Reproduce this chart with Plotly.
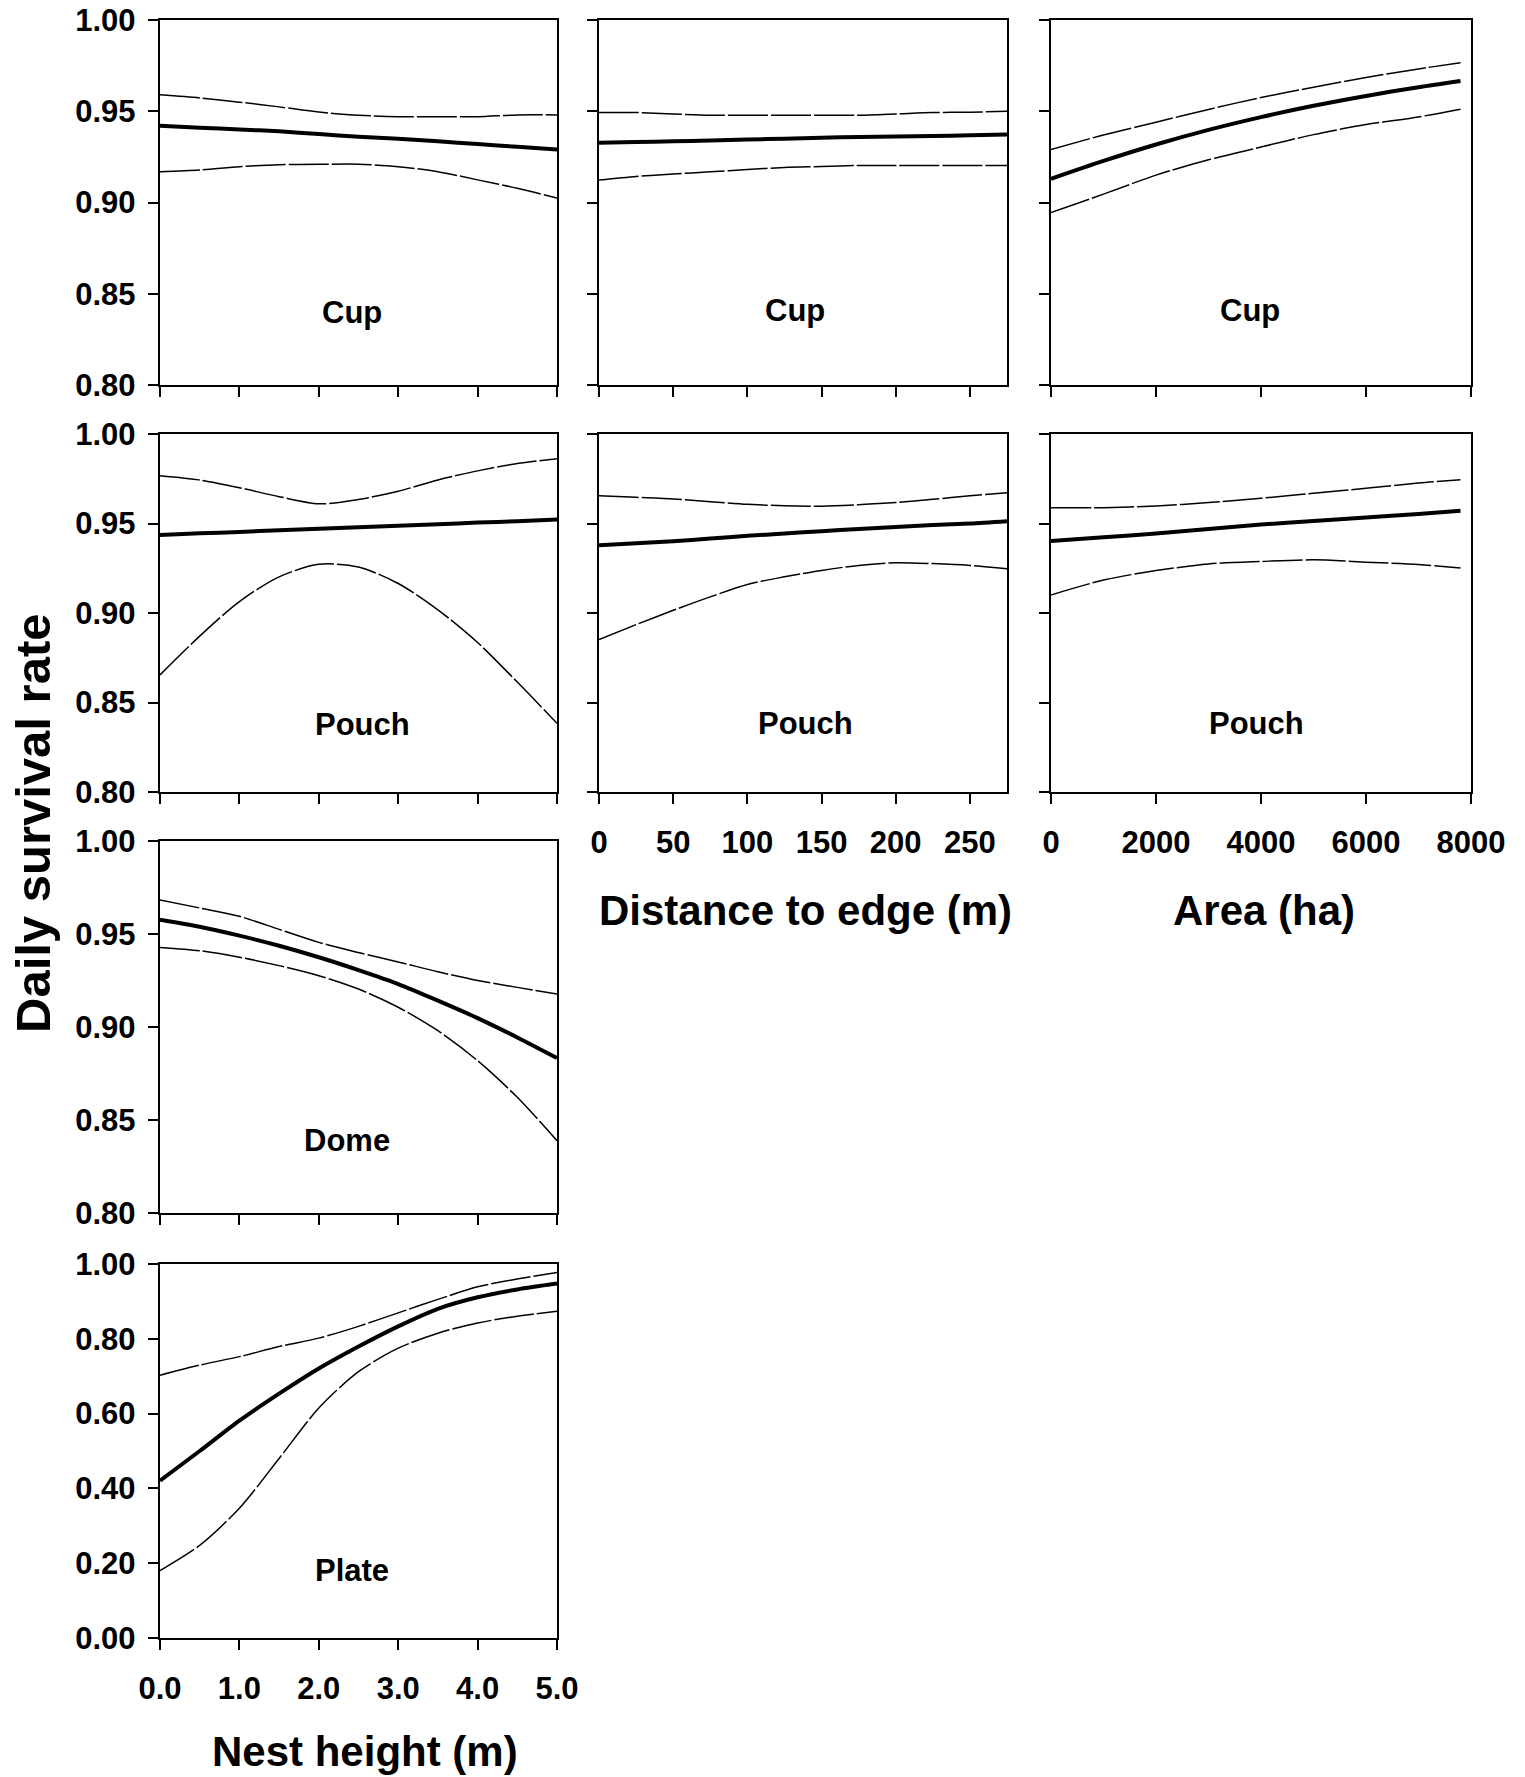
import plotly.graph_objects as go

# ---------------- data ----------------
height_x = [0.0, 0.5, 1.0, 1.5, 2.0, 2.5, 3.0, 3.5, 4.0, 4.5, 5.0]
distance_x = [0, 25, 50, 75, 100, 125, 150, 175, 200, 225, 250, 275]
area_x = [0, 1000, 2000, 3000, 4000, 5000, 6000, 7000, 7800]

cup_height_hi = [0.959, 0.9573, 0.955, 0.9524, 0.9496, 0.9478, 0.947, 0.947, 0.947, 0.948, 0.948]
cup_height_est = [0.942, 0.941, 0.940, 0.939, 0.9375, 0.936, 0.935, 0.9335, 0.932, 0.9305, 0.929]
cup_height_lo = [0.9169, 0.9178, 0.9196, 0.9207, 0.9209, 0.921, 0.9196, 0.9169, 0.9124, 0.9078, 0.9024]

cup_dist_hi = [0.9493, 0.9493, 0.9485, 0.9478, 0.9478, 0.9478, 0.9478, 0.9478, 0.9485, 0.9493, 0.9495, 0.950]
cup_dist_est = [0.9328, 0.9331, 0.9335, 0.934, 0.9345, 0.935, 0.9355, 0.9359, 0.9362, 0.9365, 0.9368, 0.9373]
cup_dist_lo = [0.9123, 0.9143, 0.9156, 0.9168, 0.9181, 0.9192, 0.9197, 0.9203, 0.9203, 0.9203, 0.9203, 0.9203]

cup_area_hi = [0.9290, 0.9370, 0.9440, 0.9510, 0.9575, 0.9632, 0.9685, 0.9732, 0.9766]
cup_area_est = [0.9130, 0.9228, 0.9318, 0.9398, 0.9468, 0.9530, 0.9584, 0.9632, 0.9666]
cup_area_lo = [0.8945, 0.9046, 0.9150, 0.9234, 0.9304, 0.9372, 0.9427, 0.9469, 0.9511]

pouch_height_hi = [0.9767, 0.9743, 0.9700, 0.9650, 0.9610, 0.9634, 0.9680, 0.9743, 0.9794, 0.9835, 0.9862]
pouch_height_est = [0.9436, 0.9445, 0.9453, 0.9462, 0.9470, 0.9479, 0.9488, 0.9496, 0.9505, 0.9513, 0.9522]
pouch_height_lo = [0.8654, 0.8871, 0.9064, 0.9202, 0.9272, 0.9257, 0.9165, 0.9018, 0.8835, 0.8614, 0.8384]

pouch_dist_hi = [0.9655, 0.9646, 0.9637, 0.9622, 0.9607, 0.9599, 0.9597, 0.9605, 0.9617, 0.9635, 0.9655, 0.9672]
pouch_dist_est = [0.9378, 0.9390, 0.9401, 0.9416, 0.9431, 0.9444, 0.9457, 0.9469, 0.9481, 0.9491, 0.9500, 0.9513]
pouch_dist_lo = [0.8852, 0.8935, 0.9015, 0.9090, 0.9159, 0.9202, 0.9238, 0.9266, 0.9281, 0.9276, 0.9266, 0.9247]

pouch_area_hi = [0.9588, 0.9588, 0.9598, 0.9617, 0.9641, 0.9669, 0.9697, 0.9726, 0.9744]
pouch_area_est = [0.9402, 0.9423, 0.9444, 0.9469, 0.9494, 0.9514, 0.9534, 0.9553, 0.9571]
pouch_area_lo = [0.9101, 0.9184, 0.9237, 0.9274, 0.9288, 0.9297, 0.9284, 0.9271, 0.9252]

dome_height_hi = [0.9683, 0.9640, 0.9595, 0.9525, 0.9455, 0.9400, 0.9350, 0.9297, 0.9250, 0.9213, 0.9177]
dome_height_est = [0.9577, 0.9539, 0.9491, 0.9437, 0.9375, 0.9306, 0.9231, 0.9142, 0.9048, 0.8944, 0.8833]
dome_height_lo = [0.9428, 0.9410, 0.9375, 0.9330, 0.9276, 0.9204, 0.9106, 0.8980, 0.8819, 0.8622, 0.8389]

plate_height_hi = [0.7027, 0.7297, 0.7523, 0.7793, 0.8018, 0.8333, 0.8694, 0.9054, 0.9390, 0.9600, 0.9775]
plate_height_est = [0.4207, 0.5000, 0.5811, 0.6532, 0.7205, 0.7793, 0.8333, 0.8802, 0.9110, 0.9320, 0.9477]
plate_height_lo = [0.1802, 0.2477, 0.3470, 0.4800, 0.6150, 0.7120, 0.7750, 0.8150, 0.8423, 0.8604, 0.8739]

panel_labels = ["Cup", "Cup", "Cup", "Pouch", "Pouch", "Pouch", "Dome", "Plate"]

height_ticks = [0, 1, 2, 3, 4, 5]
height_ticktext = ["0.0", "1.0", "2.0", "3.0", "4.0", "5.0"]
distance_ticks = [0, 50, 100, 150, 200, 250]
area_ticks = [0, 2000, 4000, 6000, 8000]
dsr_ticks = [0.80, 0.85, 0.90, 0.95, 1.00]
plate_ticks = [0.0, 0.2, 0.4, 0.6, 0.8, 1.0]

# ---------------- layout geometry (page pixels; body margin removed) ----------------
W, H = 1525, 1777

def px(x):
    return x / W
def py(y):
    return 1 - y / H
def xd(a, b):
    return [px(a), px(b)]
def yd(top, bottom):
    return [py(bottom), py(top)]

col_dom = [xd(160, 557), xd(599, 1007), xd(1051, 1471)]
row_dom = [yd(20, 385), yd(434, 792), yd(841, 1213), yd(1264, 1638)]

FONT = "Liberation Sans, Arial, sans-serif"

panels = [
    (0, 0, height_x, cup_height_est, cup_height_lo, cup_height_hi, [0, 5], height_ticks, False, [0.8, 1.0], dsr_ticks, True, (2.42, 0.8395)),
    (1, 0, distance_x, cup_dist_est, cup_dist_lo, cup_dist_hi, [0, 275], distance_ticks, False, [0.8, 1.0], dsr_ticks, False, (132, 0.841)),
    (2, 0, area_x, cup_area_est, cup_area_lo, cup_area_hi, [0, 8000], area_ticks, False, [0.8, 1.0], dsr_ticks, False, (3790, 0.841)),
    (0, 1, height_x, pouch_height_est, pouch_height_lo, pouch_height_hi, [0, 5], height_ticks, False, [0.8, 1.0], dsr_ticks, True, (2.55, 0.8376)),
    (1, 1, distance_x, pouch_dist_est, pouch_dist_lo, pouch_dist_hi, [0, 275], distance_ticks, True, [0.8, 1.0], dsr_ticks, False, (139, 0.838)),
    (2, 1, area_x, pouch_area_est, pouch_area_lo, pouch_area_hi, [0, 8000], area_ticks, True, [0.8, 1.0], dsr_ticks, False, (3905, 0.838)),
    (0, 2, height_x, dome_height_est, dome_height_lo, dome_height_hi, [0, 5], height_ticks, False, [0.8, 1.0], dsr_ticks, True, (2.35, 0.839)),
    (0, 3, height_x, plate_height_est, plate_height_lo, plate_height_hi, [0, 5], height_ticks, True, [0.0, 1.0], plate_ticks, True, (2.42, 0.18)),
]

fig = go.Figure()
layout = dict(
    width=W, height=H,
    margin=dict(l=0, r=0, t=0, b=0, autoexpand=False),
    paper_bgcolor="white", plot_bgcolor="white",
    showlegend=False,
    font=dict(family=FONT, color="black", size=30, weight="bold"),
)
annotations = []

for i, (c, r, xs, est, lo, hi, xr, xt, xlab, yr, yt, ylab, lab) in enumerate(panels):
    n = i + 1
    xname = "x" if n == 1 else f"x{n}"
    yname = "y" if n == 1 else f"y{n}"
    for ys, w, dash in ((hi, 1.5, "40px,3px"), (lo, 1.5, "40px,3px"), (est, 4, "solid")):
        fig.add_trace(go.Scatter(
            x=xs, y=ys, mode="lines", xaxis=xname, yaxis=yname,
            line=dict(color="black", width=w, dash=dash, shape="spline", smoothing=0.8),
            hoverinfo="skip",
        ))
    ax_common = dict(
        showline=True, linecolor="black", linewidth=2.2, mirror=True,
        ticks="outside", ticklen=10, tickwidth=2, tickcolor="black",
        showgrid=False, zeroline=False, automargin=False, ticklabeloverflow="allow",
        tickfont=dict(family=FONT, size=31, color="black", weight="bold"),
    )
    xa = dict(ax_common, domain=col_dom[c], range=xr, tickvals=xt,
              anchor=yname, showticklabels=xlab, ticklabelstandoff=12)
    if xt is height_ticks:
        xa["ticktext"] = height_ticktext
        xa["tickmode"] = "array"
    else:
        xa["tickformat"] = "d"
    ya = dict(ax_common, domain=row_dom[r], range=yr, tickvals=yt,
              anchor=xname, showticklabels=ylab, tickformat=".2f", ticklabelstandoff=6)
    layout["xaxis" if n == 1 else f"xaxis{n}"] = xa
    layout["yaxis" if n == 1 else f"yaxis{n}"] = ya
    annotations.append(dict(
        x=lab[0], y=lab[1], xref=xname, yref=yname, text=panel_labels[i],
        showarrow=False, font=dict(family=FONT, size=31, color="black", weight="bold"),
        xanchor="center", yanchor="middle",
    ))

title_font = dict(family=FONT, size=42, color="black", weight="bold")
annotations += [
    dict(x=px(365), y=py(1751), xref="paper", yref="paper", text="Nest height (m)",
         showarrow=False, font=title_font, xanchor="center", yanchor="middle"),
    dict(x=px(805), y=py(910), xref="paper", yref="paper", text="Distance to edge (m)",
         showarrow=False, font=title_font, xanchor="center", yanchor="middle"),
    dict(x=px(1264), y=py(910), xref="paper", yref="paper", text="Area (ha)",
         showarrow=False, font=title_font, xanchor="center", yanchor="middle"),
    dict(x=px(33), y=py(824), xref="paper", yref="paper", text="Daily survival rate",
         showarrow=False, font=dict(family=FONT, size=49, color="black", weight="bold"),
         textangle=-90, xanchor="center", yanchor="middle"),
]
layout["annotations"] = annotations
fig.update_layout(**layout)

fig.write_html(
    "out.html",
    config={"displayModeBar": False, "staticPlot": True},
    post_script="document.body.style.margin='0px';document.body.style.overflow='hidden';",
)
